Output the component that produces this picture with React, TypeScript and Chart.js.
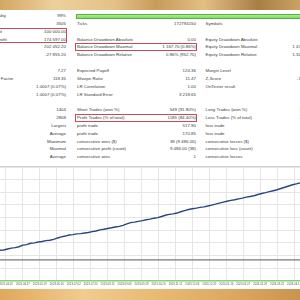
import React, { useEffect, useRef } from "react";
import { Chart, registerables } from "chart.js";

Chart.register(...registerables);

// ---------- chart data ----------
const equityDays = [
  -40, -35, -30, -25, -20, -15, -10, -5, 0, 5, 10, 15, 20, 25, 30, 35, 40, 45, 50, 55,
  60, 65, 70, 75, 80, 85, 90, 95, 100, 105, 110, 115, 120, 125, 130, 135, 140, 145, 150, 155,
  160, 165, 170, 175, 180, 185, 190, 195, 200, 205, 210, 215, 220, 225, 230, 235, 240, 245, 250, 255,
  260, 265, 270, 275, 280, 285, 290, 295, 300, 305, 310, 315, 320, 325, 330, 335, 340, 345, 350, 355,
  360, 365, 370, 375, 380,
];
const equityValues = [
  110650, 111100, 111810, 112100, 112820, 113500, 113910, 114600, 115850, 116300, 117320, 117600, 118330, 118700, 119410, 119700, 120420, 121500, 122360, 123000,
  123840, 124100, 124690, 124900, 125390, 125800, 126470, 127000, 127870, 128300, 128950, 129500, 130120, 130600, 131360, 132600, 133530, 133900, 134540, 135100,
  135780, 136300, 137020, 137500, 138340, 139300, 139970, 140400, 141060, 142100, 142920, 143800, 144470, 144900, 145480, 145900, 146560, 147300, 148040, 148900,
  149660, 150300, 150980, 151500, 152150, 152800, 153540, 154000, 154630, 155600, 156410, 157100, 157890, 158600, 159360, 160300, 161300, 162300, 163240, 164000,
  164790, 165500, 166340, 167000, 167890,
];
const depositDays = [-60, 400];
const depositValues = [104300, 104300];
const dateTickDays = [-44, -22, 0, 22, 44, 66, 88, 110, 132, 154, 176, 198, 220, 242, 264, 286, 308, 330, 352, 374];
const dateTickLabels = [
  "2023.03.14", "2023.04.05", "2023.04.27", "2023.05.19", "2023.06.10", "2023.07.02", "2023.07.24",
  "2023.08.15", "2023.09.06", "2023.09.28", "2023.10.20", "2023.11.11", "2023.12.03", "2023.12.25",
  "2024.01.16", "2024.02.07", "2024.02.29", "2024.03.22", "2024.04.13", "2024.05.05",
];

// ---------- report table text ----------
const col1Labels = [
  "History Quality", "Bars", "Initial Deposit", "Total Net Profit", "Gross Profit", "Gross Loss", "",
  "Profit Factor", "Recovery Factor", "AHPR", "GHPR", "",
  "Total Trades", "Total Deals", "", "", "", "", "",
];
const col1Values = [
  "99%", "3505", "100 000.00", "174 597.00", "202 452.20", "-27 855.20", "",
  "7.27", "118.35", "1.0007 (0.07%)", "1.0007 (0.07%)", "",
  "1404", "2808", "Largest", "Average", "Maximum", "Maximal", "Average",
];
const col2Labels = [
  "", "Ticks", "", "Balance Drawdown Absolute", "Balance Drawdown Maximal", "Balance Drawdown Relative", "",
  "Expected Payoff", "Sharpe Ratio", "LR Correlation", "LR Standard Error", "",
  "Short Trades (won %)", "Profit Trades (% of total)", "profit trade", "profit trade",
  "consecutive wins ($)", "consecutive profit (count)", "consecutive wins",
];
const col2Values = [
  "", "172794150", "", "0.00", "1 167.70 (0.86%)", "0.86% (952.70)", "",
  "124.36", "11.47", "1.00", "3 218.65", "",
  "549 (91.80%)", "1185 (84.40%)", "517.90", "170.85", "38 (9 486.00)", "9 486.00 (38)", "1",
];
const col3Labels = [
  "", "Symbols", "", "Equity Drawdown Absolute", "Equity Drawdown Maximal", "Equity Drawdown Relative", "",
  "Margin Level", "Z-Score", "OnTester result", "", "",
  "Long Trades (won %)", "Loss Trades (% of total)", "loss trade", "loss trade",
  "consecutive losses ($)", "consecutive loss (count)", "consecutive losses",
];
const col3Values = [
  "", "1", "", "0.00", "1 475.80 (1.23%)", "1.32% (1 475.80)", "",
  "5632.47%", "-1.21 (77.37%)", "0", "", "",
  "855 (80.70%)", "219 (15.60%)", "-1 167.70", "-127.20", "1 (-517.90)", "-517.90 (1)", "1",
];
const highlightRows = [[2, 3], [4, 4], [13, 13]];

// ---------- layout (not data) ----------
const ROW_TOP = 12;
const ROW_H = 7.85;
const col1LabelRight = [6, -20, 2, 6.7, -20, -20, -20, -20, 13.3, -20, -20, -20, -20, -20, -20, -20, -20, -20, -20];

function EquityChart() {
  const ref = useRef<HTMLCanvasElement>(null);
  useEffect(() => {
    if (!ref.current) return;
    const chart = new Chart(ref.current, {
      type: "line",
      data: {
        datasets: [
          {
            label: "Balance",
            data: equityDays.map((d, i) => ({ x: d, y: equityValues[i] })),
            borderColor: "#2a4680",
            borderWidth: 1.4,
            pointRadius: 0,
            tension: 0,
          },
          {
            label: "Deposit",
            data: depositDays.map((d, i) => ({ x: d, y: depositValues[i] })),
            borderColor: "#7a7a7a",
            borderWidth: 1.4,
            pointRadius: 0,
          },
        ],
      },
      options: {
        animation: false,
        responsive: false,
        maintainAspectRatio: false,
        layout: { padding: 0, autoPadding: false },
        plugins: { legend: { display: false }, tooltip: { enabled: false } },
        scales: {
          x: {
            type: "linear",
            min: -45.2,
            max: 375,
            border: { display: true, color: "#84cf78", width: 1.5 },
            grid: { color: "#e6e6e6", drawTicks: false, lineWidth: 1 },
            afterBuildTicks: (axis: any) => {
              axis.ticks = dateTickDays.map((v) => ({ value: v }));
            },
            ticks: {
              autoSkip: false,
              maxRotation: 0,
              padding: 2,
              color: "#56645a",
              font: { size: 2.8, family: "Liberation Sans" },
              callback: (_v: any, i: number) => dateTickLabels[i] ?? "",
            },
          },
          y: {
            min: 88000,
            max: 177200,
            border: { display: false },
            grid: { color: "#e6e6e6", drawTicks: false, lineWidth: 1 },
            ticks: { display: false, stepSize: 10000, includeBounds: false },
          },
        },
      },
    });
    return () => chart.destroy();
  }, []);
  return (
    <canvas
      ref={ref}
      width={340}
      height={121}
      style={{ position: "absolute", left: -20, top: 167, width: 340, height: 121 }}
    />
  );
}

const cell = (extra: React.CSSProperties): React.CSSProperties => ({
  position: "absolute",
  whiteSpace: "nowrap",
  lineHeight: `${ROW_H}px`,
  height: ROW_H,
  ...extra,
});

export default function App() {
  return (
    <div
      style={{
        position: "fixed",
        left: 0,
        top: 0,
        width: 300,
        height: 300,
        overflow: "hidden",
        background: "#ffffff",
        fontFamily: "'Liberation Sans', Arial, sans-serif",
        fontSize: 4.4,
        color: "#3c3c3c",
      }}
    >
      {/* top gold frame */}
      <div
        style={{
          position: "absolute",
          left: 0,
          top: 0,
          width: 300,
          height: 9.5,
          background:
            "linear-gradient(90deg, #d2a762 0%, #ecd09b 18%, #e3c288 38%, #c89b5a 52%, #e2bf83 68%, #a97e44 86%, #caa264 100%)",
        }}
      />
      {/* table rows */}
      {col1Values.map((_, r) => {
        const top = ROW_TOP + r * ROW_H;
        return (
          <React.Fragment key={r}>
            {col1Labels[r] && (
              <div style={cell({ top, right: 300 - col1LabelRight[r] })}>{col1Labels[r]}</div>
            )}
            {col1Values[r] && <div style={cell({ top, right: 300 - 66 })}>{col1Values[r]}</div>}
            {col2Labels[r] && <div style={cell({ top, left: 77 })}>{col2Labels[r]}</div>}
            {col2Values[r] && <div style={cell({ top, right: 300 - 196 })}>{col2Values[r]}</div>}
            {col3Labels[r] && <div style={cell({ top, left: 205.5 })}>{col3Labels[r]}</div>}
            {col3Values[r] && <div style={cell({ top, right: 300 - 326 })}>{col3Values[r]}</div>}
          </React.Fragment>
        );
      })}
      {/* history quality bar */}
      <div
        style={{
          position: "absolute",
          left: 76,
          top: 13.8,
          width: 240,
          height: 5.4,
          boxSizing: "border-box",
          border: "1px solid #5daf49",
          background: "linear-gradient(#a8f08a, #80dc60)",
        }}
      />
      {/* highlight boxes */}
      {highlightRows.map(([a, b], i) => {
        const first = i === 0;
        return (
          <div
            key={i}
            style={{
              position: "absolute",
              left: first ? -2 : 75,
              width: first ? 69 : 122,
              top: ROW_TOP + a * ROW_H,
              height: (b - a + 1) * ROW_H,
              boxSizing: "border-box",
              border: "1px solid #c84b58",
            }}
          />
        );
      })}
      {/* chart top border */}
      <div style={{ position: "absolute", left: 0, top: 166, width: 300, height: 1, background: "#cfcfcf" }} />
      <EquityChart />
      {/* bottom gold frame */}
      <div
        style={{
          position: "absolute",
          left: 0,
          top: 289,
          width: 300,
          height: 11,
          background:
            "linear-gradient(90deg, #dfa85c 0%, #f0cc8e 28%, #e8bc76 50%, #dba862 78%, #c9944f 100%)",
        }}
      />
    </div>
  );
}
